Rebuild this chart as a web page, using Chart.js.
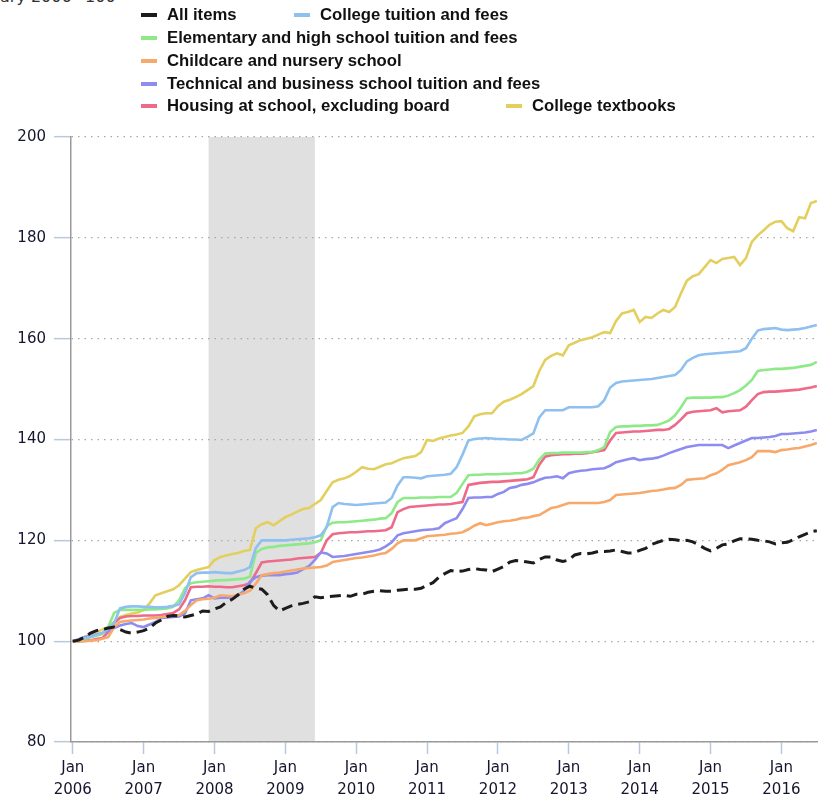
<!DOCTYPE html>
<html>
<head>
<meta charset="utf-8">
<script src="https://cdn.jsdelivr.net/npm/chart.js@4.4.1/dist/chart.umd.min.js"></script>
<style>
  body { margin: 0; background: #fff; }
  #wrap { position: relative; width: 818px; height: 802px; overflow: hidden; }
  #chart { position: absolute; left: 0; top: 0; }
  .unit { position: absolute; left: 0; top: -12px; font: 16px 'DejaVu Sans', sans-serif; color: #333; white-space: nowrap; line-height: 18px; }
  .unit span { position: absolute; right: 100%; }
  .legend-item { position: absolute; font: bold 16.7px 'Liberation Sans', sans-serif; color: #111; white-space: nowrap; line-height: 20px; }
  .legend-item i { position: absolute; left: -26px; top: 8px; width: 16px; height: 4px; }
</style>
</head>
<body>
<div id="wrap">
  <div class="unit"><span>Index, Janu</span>ary 2006=100</div>
  <canvas id="chart" width="818" height="802"></canvas>
</div>
<script>
// monthly index, Jan 2006 = 100, Jan 2006 .. Jul 2016
const yearLabels = ['2006', '2007', '2008', '2009', '2010', '2011', '2012', '2013', '2014', '2015', '2016'];
const recessionStart = 23; // Dec 2007 (month index)
const recessionEnd = 41;   // Jun 2009

const allItems = [
  100.0, 100.2, 100.8, 101.6, 102.1, 102.3, 102.6, 102.8, 102.3, 101.8, 101.6, 101.8,
  102.1, 102.6, 103.6, 104.2, 104.9, 105.1, 105.0, 104.8, 105.1, 105.4, 106.0, 105.9,
  106.4, 106.8, 107.7, 108.3, 109.2, 110.3, 110.9, 110.5, 110.3, 109.2, 107.1, 106.0,
  106.5, 107.0, 107.3, 107.5, 107.8, 108.8, 108.6, 108.8, 108.9, 109.0, 109.1, 108.9,
  109.3, 109.3, 109.7, 109.9, 110.0, 109.9, 109.9, 110.1, 110.2, 110.3, 110.3, 110.5,
  111.1, 111.6, 112.7, 113.4, 114.0, 113.8, 113.9, 114.2, 114.4, 114.2, 114.1, 113.8,
  114.3, 114.8, 115.7, 116.0, 115.9, 115.7, 115.5, 116.2, 116.7, 116.7, 116.1, 115.8,
  116.1, 117.1, 117.4, 117.3, 117.5, 117.8, 117.8, 117.9, 118.1, 117.8, 117.5, 117.5,
  118.0, 118.4, 119.2, 119.6, 120.0, 120.2, 120.1, 119.9, 120.0, 119.7, 119.1, 118.4,
  117.9, 118.4, 119.1, 119.3, 119.9, 120.3, 120.3, 120.2, 120.0, 119.9, 119.7, 119.3,
  119.5, 119.6, 120.1, 120.7, 121.2, 121.7, 121.9
];
const collegeTuition = [
  100.0, 100.3, 100.6, 100.9, 101.2, 101.6, 102.5, 103.6, 106.5, 106.8, 106.9, 106.9,
  106.8, 106.8, 106.7, 106.7, 106.8, 107.0, 107.3, 109.5, 112.7, 113.5, 113.6, 113.6,
  113.7, 113.6, 113.5, 113.5, 113.8, 114.1, 114.7, 118.5, 120.0, 120.0, 120.0, 120.0,
  120.0, 120.1, 120.2, 120.3, 120.4, 120.6, 121.0, 122.6, 126.6, 127.4, 127.2, 127.1,
  127.0, 127.1, 127.2, 127.3, 127.4, 127.5, 128.4, 130.9, 132.5, 132.5, 132.4, 132.3,
  132.7, 132.8, 132.9, 133.0, 133.2, 134.5, 137.0, 139.8, 140.1, 140.2, 140.3, 140.2,
  140.1, 140.1, 140.0, 140.0, 139.9, 140.5, 141.2, 144.4, 145.8, 145.8, 145.8, 145.8,
  146.4, 146.4, 146.4, 146.4, 146.4, 146.6, 147.8, 150.3, 151.2, 151.5, 151.6, 151.7,
  151.8, 151.9, 152.0, 152.2, 152.4, 152.6, 152.8, 153.8, 155.5, 156.2, 156.7, 156.9,
  157.0, 157.1, 157.2, 157.3, 157.4, 157.5, 158.1, 160.0, 161.6, 161.9, 162.0, 162.1,
  161.8, 161.7, 161.8, 161.9, 162.1, 162.4, 162.7
];
const elementaryTuition = [
  100.0, 100.2, 100.5, 100.8, 101.1, 101.4, 102.8, 105.6, 106.2, 106.2, 106.2, 106.2,
  106.2, 106.3, 106.3, 106.4, 106.5, 106.8, 108.1, 110.5, 111.5, 111.7, 111.8, 111.9,
  112.0, 112.1, 112.1, 112.2, 112.3, 112.4, 112.8, 117.5, 118.3, 118.6, 118.7, 118.9,
  119.0, 119.1, 119.2, 119.3, 119.4, 119.6, 120.0, 122.8, 123.5, 123.6, 123.6, 123.7,
  123.8, 123.9, 124.0, 124.1, 124.3, 124.4, 125.4, 127.6, 128.4, 128.4, 128.4, 128.5,
  128.5, 128.5, 128.6, 128.6, 128.6, 129.4, 131.2, 132.9, 133.0, 133.0, 133.1, 133.1,
  133.1, 133.2, 133.2, 133.3, 133.3, 133.6, 134.2, 136.0, 137.2, 137.3, 137.3, 137.4,
  137.4, 137.4, 137.4, 137.5, 137.5, 137.9, 138.5, 141.5, 142.5, 142.6, 142.6, 142.7,
  142.7, 142.8, 142.8, 142.9, 143.3, 143.8, 144.8, 146.4, 148.2, 148.3, 148.3, 148.3,
  148.3, 148.4, 148.4, 148.7, 149.2, 149.8, 150.7, 151.8, 153.6, 153.8, 153.9, 154.0,
  154.0, 154.1, 154.2, 154.4, 154.6, 154.8, 155.4
];
const childcare = [
  100.0, 99.9, 100.0, 100.1, 100.2, 100.5, 100.8, 102.8, 103.8, 104.0, 104.1, 104.2,
  104.3, 104.5, 104.6, 104.8, 104.9, 105.1, 105.2, 106.0, 107.2, 108.1, 108.3, 108.4,
  108.6, 109.1, 109.0, 108.9, 109.2, 109.5, 110.0, 111.4, 113.1, 113.3, 113.5, 113.6,
  113.8, 114.0, 114.2, 114.4, 114.5, 114.6, 114.7, 115.0, 115.7, 115.9, 116.1, 116.3,
  116.5, 116.6, 116.8, 117.0, 117.3, 117.5, 118.3, 119.4, 120.0, 120.0, 120.0, 120.4,
  120.8, 120.9, 121.0, 121.1, 121.3, 121.4, 121.6, 122.2, 122.9, 123.4, 123.0, 123.3,
  123.6, 123.8, 123.9, 124.1, 124.4, 124.5, 124.8, 125.0, 125.7, 126.4, 126.6, 127.0,
  127.4, 127.4, 127.4, 127.4, 127.4, 127.4, 127.6, 128.0, 129.0, 129.1, 129.2, 129.3,
  129.4, 129.6, 129.8, 129.9, 130.1, 130.3, 130.4, 131.0, 132.0, 132.1, 132.2, 132.3,
  132.9, 133.3, 134.0, 134.9, 135.2, 135.5, 135.9, 136.5, 137.7, 137.7, 137.7, 137.5,
  137.9, 138.0, 138.2, 138.3, 138.6, 138.9, 139.3
];
const technicalTuition = [
  100.0, 100.4, 100.8, 101.0, 101.3, 101.6, 102.0, 102.6, 103.1, 103.4, 103.6, 103.0,
  102.8, 103.3, 103.8, 104.6, 104.7, 104.8, 104.9, 105.5, 108.1, 108.3, 108.5, 109.1,
  108.5, 108.6, 108.6, 108.7, 109.1, 110.0, 111.8, 112.7, 113.0, 113.1, 113.1, 113.1,
  113.3, 113.4, 113.6, 114.3, 114.9, 116.1, 117.6, 117.4, 116.7, 116.8, 116.9, 117.1,
  117.3, 117.5, 117.7, 117.9, 118.2, 118.8, 119.6, 121.0, 121.4, 121.6, 121.8, 122.0,
  122.1, 122.2, 122.4, 123.4, 123.9, 124.4, 126.2, 128.4, 128.5, 128.5, 128.6, 128.6,
  129.2, 129.6, 130.4, 130.6, 131.0, 131.2, 131.5, 132.0, 132.4, 132.5, 132.7, 132.3,
  133.3, 133.6, 133.8, 133.9, 134.1, 134.2, 134.3, 134.8, 135.5, 135.8, 136.1, 136.3,
  135.9, 136.1, 136.2, 136.4, 136.8, 137.3, 137.7, 138.1, 138.5, 138.7, 138.9, 138.9,
  138.9, 138.9, 138.9, 138.3, 138.8, 139.3, 139.8, 140.3, 140.3, 140.4, 140.5, 140.7,
  141.1, 141.1, 141.2, 141.3, 141.4, 141.6, 141.9
];
const housingAtSchool = [
  100.0, 100.0, 100.1, 100.2, 100.4, 100.6, 101.8, 103.6, 104.6, 104.9, 105.0, 105.0,
  105.1, 105.1, 105.1, 105.2, 105.4, 105.6, 106.3, 108.1, 110.7, 110.8, 110.8, 110.9,
  110.8, 110.8, 110.7, 110.7, 110.9, 111.1, 111.5, 113.5, 115.6, 115.8, 115.9, 116.0,
  116.1, 116.2, 116.4, 116.5, 116.6, 116.7, 117.5, 120.0, 121.2, 121.4, 121.5, 121.6,
  121.6, 121.7, 121.8, 121.8, 121.9, 122.0, 122.6, 125.6, 126.2, 126.6, 126.7, 126.8,
  126.9, 127.0, 127.1, 127.1, 127.2, 127.4, 127.6, 131.0, 131.2, 131.4, 131.5, 131.6,
  131.6, 131.7, 131.8, 131.9, 132.0, 132.1, 132.5, 135.0, 136.6, 136.9, 137.0, 137.1,
  137.1, 137.2, 137.2, 137.3, 137.5, 137.7, 137.9, 139.8, 141.3, 141.4, 141.5, 141.6,
  141.6, 141.7, 141.8, 141.9, 141.9, 142.1, 142.9, 144.0, 145.2, 145.5, 145.6, 145.7,
  145.8, 146.2, 145.4, 145.6, 145.7, 145.8, 146.5, 147.8, 149.0, 149.4, 149.5, 149.5,
  149.6, 149.7, 149.8, 149.9, 150.1, 150.3, 150.6
];
const collegeTextbooks = [
  100.0, 100.4, 100.8, 101.4, 101.8, 102.3, 102.8, 103.8, 104.8, 105.2, 105.5, 105.7,
  106.2, 107.5, 109.1, 109.5, 109.9, 110.3, 111.1, 112.4, 113.7, 114.1, 114.4, 114.7,
  116.1, 116.7, 117.0, 117.3, 117.5, 117.9, 118.1, 122.4, 123.2, 123.6, 123.0, 123.8,
  124.6, 125.1, 125.7, 126.2, 126.4, 127.2, 128.0, 129.8, 131.5, 132.0, 132.3, 132.8,
  133.6, 134.5, 134.2, 134.1, 134.6, 135.1, 135.3, 135.8, 136.3, 136.5, 136.7, 137.5,
  139.9, 139.7, 140.2, 140.5, 140.8, 141.0, 141.3, 142.6, 144.6, 145.0, 145.2, 145.2,
  146.6, 147.5, 147.9, 148.4, 149.0, 149.8, 150.6, 153.6, 155.8, 156.6, 157.1, 156.7,
  158.7, 159.2, 159.7, 160.0, 160.3, 160.8, 161.3, 161.1, 163.5, 165.0, 165.3, 165.7,
  163.3, 164.3, 164.1, 165.0, 165.7, 165.3, 166.3, 169.0, 171.5, 172.4, 172.8, 174.2,
  175.6, 175.0, 175.8, 176.0, 176.2, 174.6, 176.0, 179.2, 180.5, 181.5, 182.6, 183.2,
  183.3, 181.9, 181.3, 184.1, 183.9, 186.9, 187.3
];

const seriesNames = [
  'All items',
  'College tuition and fees',
  'Elementary and high school tuition and fees',
  'Childcare and nursery school',
  'Technical and business school tuition and fees',
  'Housing at school, excluding board',
  'College textbooks'
];
const seriesData = [allItems, collegeTuition, elementaryTuition, childcare, technicalTuition, housingAtSchool, collegeTextbooks];
const seriesColors = ['#1c1c1c', '#8ec0f0', '#8eea88', '#f7a96b', '#8e8cf0', '#ee6a88', '#e3cf5e'];

// legend placement (text left, text centre y)
const legendSlots = [[167, 15], [320, 15], [167, 38], [167, 61], [167, 84], [167, 106], [532, 106]];

const wrap = document.getElementById('wrap');
seriesNames.forEach((name, i) => {
    const el = document.createElement('div');
    el.className = 'legend-item';
    el.style.left = legendSlots[i][0] + 'px';
    el.style.top = (legendSlots[i][1] - 10) + 'px';
    el.innerHTML = '<i style="background:' + seriesColors[i] + '"></i>' + name;
    wrap.appendChild(el);
});

// grey band for the recession
const recessionBand = {
    id: 'recessionBand',
    beforeDraw(chart) {
        const { ctx, chartArea, scales } = chart;
        const x0 = scales.x.getPixelForValue(recessionStart);
        const x1 = scales.x.getPixelForValue(recessionEnd);
        ctx.save();
        ctx.fillStyle = '#e0e0e0';
        ctx.fillRect(x0, chartArea.top, x1 - x0, chartArea.bottom - chartArea.top);
        ctx.restore();
    }
};

const tickFont = { family: "'DejaVu Sans', sans-serif", size: 15, lineHeight: 1.45 };

new Chart(document.getElementById('chart'), {
    type: 'line',
    data: {
        labels: allItems.map((_, i) => i),
        datasets: seriesData.map((d, i) => ({
            label: seriesNames[i],
            data: d,
            borderColor: seriesColors[i],
            borderWidth: i === 0 ? 3 : 2.6,
            borderDash: i === 0 ? [11, 6] : [],
            pointRadius: 0,
            tension: 0,
            fill: false
        }))
    },
    options: {
        responsive: false,
        animation: false,
        layout: { padding: { top: 137, left: 0, right: 0, bottom: 0 } },
        plugins: { legend: { display: false }, tooltip: { enabled: false } },
        scales: {
            x: {
                type: 'linear',
                min: -0.3,
                max: 126.2,
                afterFit: (s) => { s.height = 60; },
                afterBuildTicks: (s) => { s.ticks = yearLabels.map((_, i) => ({ value: i * 12 })); },
                border: { color: '#9a9a9a', width: 1.5 },
                grid: { drawOnChartArea: false, drawTicks: true, tickLength: 12, tickColor: '#b9c9da', tickWidth: 1.5 },
                ticks: {
                    color: '#15152e',
                    font: tickFont,
                    padding: 3,
                    maxRotation: 0,
                    autoSkip: false,
                    callback: (v) => ['Jan', yearLabels[Math.round(v / 12)]]
                }
            },
            y: {
                min: 80,
                max: 200,
                afterFit: (s) => { s.width = 71; },
                border: { color: '#9a9a9a', width: 1.5, dash: [1.5, 5] },
                grid: {
                    color: '#a8a8a8',
                    lineWidth: 1.3,
                    tickLength: 17,
                    tickColor: '#b9c9da',
                    tickWidth: 1.5,
                    tickBorderDash: []
                },
                ticks: { stepSize: 20, color: '#15152e', font: tickFont, padding: 8 }
            }
        }
    },
    plugins: [recessionBand]
});
</script>
</body>
</html>
